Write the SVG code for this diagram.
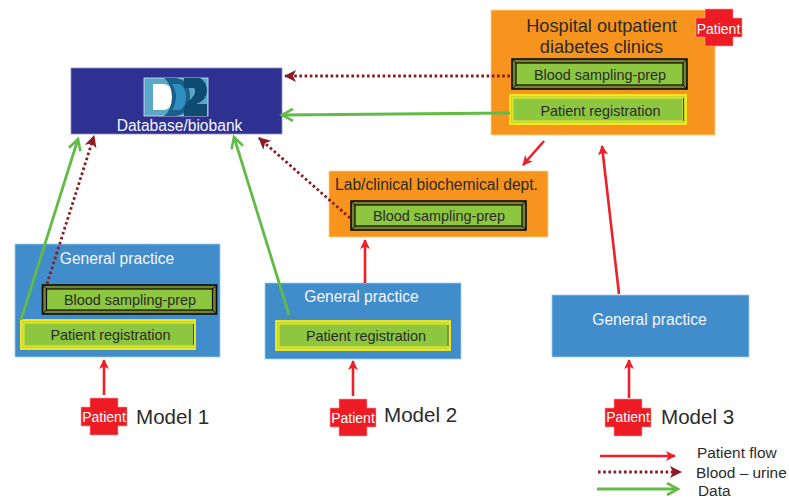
<svg xmlns="http://www.w3.org/2000/svg" width="789" height="498" viewBox="0 0 789 498">
<style>
text{font-family:"Liberation Sans",Arial,sans-serif;fill:#2b2b2b}
.m{text-anchor:middle}
.w{fill:#f4f6fb}
.t{font-size:14.400px}
.g{font-size:15.600px}
.mod{font-size:20.600px}
.leg{font-size:15.400px}
.pat{font-size:14px;fill:#fff;text-anchor:middle}
.cross{fill:#ed1c24;stroke:#f6a0a0;stroke-width:.6}
.flow{fill:none;stroke:#ed2027;stroke-width:2.6}
.blood{fill:none;stroke:#8a1c24;stroke-width:2.8;stroke-dasharray:2.6 2.6}
.data{fill:none;stroke:#62bb46;stroke-width:2.8}
.bo{fill:#75832f;stroke:#0a0a0a;stroke-width:1.6}
.bi{fill:#8dc63f;stroke:#0a0a0a;stroke-width:1.2}
.ro{fill:#c9d62f;stroke:#f2ee1c;stroke-width:1.8}
.ri{fill:#8dc63f;stroke:#e6e62a;stroke-width:1.2}
.bev{stroke:#111;stroke-width:1;fill:none}
.revl{stroke:#445;stroke-width:1;fill:none}
</style>
<defs>
<marker id="af" markerUnits="userSpaceOnUse" markerWidth="12" markerHeight="12" refX="9" refY="5" orient="auto"><path d="M0 0L10 5L0 10L2.500 5Z" fill="#ed2027"/></marker>
<marker id="ab" markerUnits="userSpaceOnUse" markerWidth="14" markerHeight="14" refX="11" refY="6" orient="auto"><path d="M0 0L12 6L0 12L3 6Z" fill="#8a1c24"/></marker>
<marker id="ad" markerUnits="userSpaceOnUse" markerWidth="16" markerHeight="16" refX="12" refY="7" orient="auto"><path d="M1 1L12 7L1 13" fill="none" stroke="#62bb46" stroke-width="2.600"/></marker>
<path id="cr" class="cross" d="M9 0H37V9H46V28H37V37H9V28H0V9H9Z"/>
</defs>

<g id="hospital">
<rect x="491" y="10" width="224" height="125" fill="#f7941e" stroke="#fbd28f" stroke-width=".8"/>
<text class="m" x="601.500" y="32" font-size="18.200">Hospital outpatient</text>
<text class="m" x="601.500" y="53" font-size="18.200">diabetes clinics</text>
<use href="#cr" x="696" y="9"/>
<text class="pat" x="718.500" y="34">Patient</text>
<rect class="bo" x="512" y="59" width="175" height="30"/>
<rect class="bi" x="516" y="63" width="167" height="22"/>
<path class="bev" d="M512 59L516 63M687 59L683 63M512 89L516 85M687 89L683 85"/>
<text class="m t" x="600" y="80">Blood sampling-prep</text>
<rect class="ro" x="510" y="95" width="176" height="29"/>
<rect class="ri" x="513" y="98" width="170" height="23"/>
<path class="revl" d="M683.500 98V121"/>
<text class="m t" x="600.500" y="116">Patient registration</text>
</g>

<g id="database">
<rect x="71" y="68" width="211" height="66" fill="#2e3192" stroke="#8e90c8" stroke-width=".8"/>
<rect x="144" y="78" width="64" height="38" fill="#5aa7c8" stroke="#d9e6f0" stroke-width=".8"/>
<path d="M153 84H163Q172 84 172 97Q172 110 163 110H153Z" fill="#fff"/>
<path d="M164 78H176Q190 80 190 97Q190 114 176 116H164Q172 110 172 97Q172 84 164 78Z" fill="#1a5f86"/>
<path d="M172 84H180Q186 88 186 97Q186 106 180 110H172Q176 104 176 97Q176 90 172 84Z" fill="#2f8fc0"/>
<path d="M184 78H200Q207 82 207 91Q207 100 196 104H207V116H184Q182 106 192 98Q197 92 194 88H184Z" fill="#0f4a70"/>
<text class="m w g" x="179.500" y="131">Database/biobank</text>
</g>

<g id="lab">
<rect x="329" y="171" width="219" height="66" fill="#f7941e" stroke="#fbd28f" stroke-width=".8"/>
<text class="m g" x="436.500" y="190">Lab/clinical biochemical dept.</text>
<rect class="bo" x="351" y="201" width="175" height="29"/>
<rect class="bi" x="355" y="205" width="167" height="21"/>
<path class="bev" d="M351 201L355 205M526 201L522 205M351 230L355 226M526 230L522 226"/>
<text class="m t" x="439" y="221">Blood sampling-prep</text>
</g>

<g id="gp1">
<rect x="15" y="244" width="205" height="113" fill="#418ccb" stroke="#9ccdee" stroke-width=".8"/>
<text class="m w g" x="117" y="264">General practice</text>
<rect class="bo" x="42.500" y="285" width="174" height="29"/>
<rect class="bi" x="46.500" y="289" width="166" height="21"/>
<path class="bev" d="M42.500 285L46.500 289M216.500 285L212.500 289M42.500 314L46.500 310M216.500 314L212.500 310"/>
<text class="m t" x="130" y="305">Blood sampling-prep</text>
<rect class="ro" x="21" y="320" width="174" height="29"/>
<rect class="ri" x="24" y="323" width="170" height="23"/>
<path class="revl" d="M193.500 324V345"/>
<text class="m t" x="110.500" y="340">Patient registration</text>
</g>

<g id="gp2">
<rect x="265" y="283" width="196" height="76" fill="#418ccb" stroke="#9ccdee" stroke-width=".8"/>
<text class="m w g" x="361.500" y="302">General practice</text>
<rect class="ro" x="276" y="321" width="174" height="29"/>
<rect class="ri" x="279" y="324" width="169" height="23"/>
<path class="revl" d="M448 325V346"/>
<text class="m t" x="366" y="341">Patient registration</text>
</g>

<g id="gp3">
<rect x="552" y="295" width="197" height="62" fill="#418ccb" stroke="#9ccdee" stroke-width=".8"/>
<text class="m w g" x="649.500" y="325">General practice</text>
</g>

<g id="patient1"><use href="#cr" x="81" y="398"/><text class="pat" x="104" y="422">Patient</text></g>
<g id="patient2"><use href="#cr" x="330" y="399"/><text class="pat" x="353" y="423">Patient</text></g>
<g id="patient3"><use href="#cr" x="605" y="399"/><text class="pat" x="628" y="422">Patient</text></g>
<g id="labels">
<text class="mod" x="136" y="424">Model 1</text>
<text class="mod" x="384" y="422">Model 2</text>
<text class="mod" x="661" y="424">Model 3</text>
<text class="leg" x="697" y="458">Patient flow</text>
<text class="leg" x="696" y="478">Blood – urine</text>
<text class="leg" x="698" y="496">Data</text>
</g>

<g id="connectors">
<path class="blood" d="M510 76H285" marker-end="url(#ab)"/>
<path class="data" d="M510 113L282 115" marker-end="url(#ad)"/>
<path class="flow" d="M544 141L523 165" marker-end="url(#af)"/>
<path class="flow" d="M619 294L602 146" marker-end="url(#af)"/>
<path class="blood" d="M350 218L259 138" marker-end="url(#ab)"/>
<path class="data" d="M289 315L234 137" marker-end="url(#ad)"/>
<path class="flow" d="M365 283V240" marker-end="url(#af)"/>
<path class="data" d="M21 320L78 139" marker-end="url(#ad)"/>
<path class="blood" d="M47 284L94 136" marker-end="url(#ab)"/>
<path class="flow" d="M104 395V360" marker-end="url(#af)"/>
<path class="flow" d="M353 396V361" marker-end="url(#af)"/>
<path class="flow" d="M629 398V360" marker-end="url(#af)"/>
<path class="flow" d="M600 456H675" marker-end="url(#af)"/>
<path class="blood" d="M598 472H681" marker-end="url(#ab)"/>
<path class="data" d="M597 489H678" marker-end="url(#ad)"/>
</g>
</svg>
